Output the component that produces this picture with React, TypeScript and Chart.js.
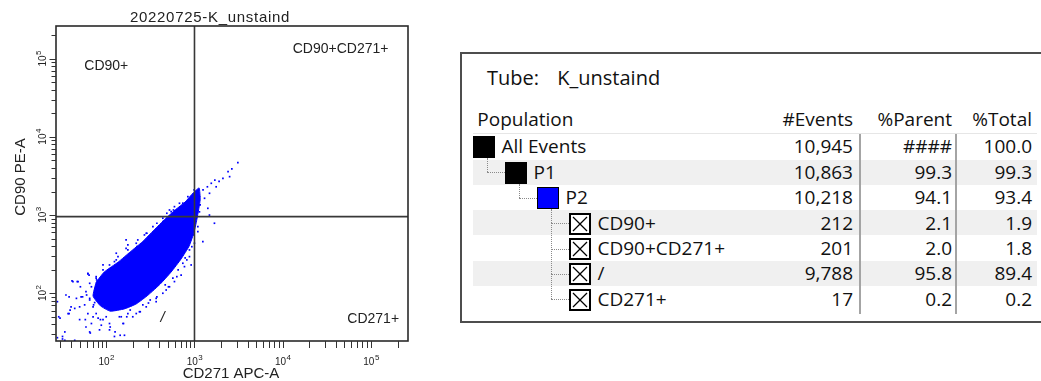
import React, { useEffect, useRef } from "react";
import { Chart, registerables } from "chart.js";

Chart.register(...registerables);

// ---------------- plot data ----------------
const plotTitle = "20220725-K_unstaind";
const xAxisTitle = "CD271 APC-A";
const yAxisTitle = "CD90 PE-A";
const xRange = [27, 262144];
const yRange = [24.5, 262144];
const gateCD271 = 1000;
const gateCD90 = 955;
const decadeExponents = [2, 3, 4, 5];
const minorMultipliers = [2, 3, 4, 5, 6, 7, 8, 9];
const quadrantNames = ["CD90+", "CD90+CD271+", "/", "CD271+"];

// outline of the dense core of P2 events (CD271 APC-A, CD90 PE-A)
const coreCD271 = [77, 95, 137, 187, 256, 349, 466, 604, 784, 966, 1129, 1159, 1072, 991, 871, 706, 544, 409, 299, 219, 160, 111, 86, 71, 77];
const coreCD90 = [139, 187, 251, 338, 453, 645, 892, 1162, 1471, 1918, 2222, 1560, 918, 608, 403, 275, 187, 131, 95, 73, 63, 59, 69, 92, 139];

// individual sparse events
const eventCD271 = [
  3100, 2650, 2400, 2500, 2100, 1900, 1700, 1550, 1760, 1400,
  1250, 1480, 1140, 1300, 1044, 917, 841, 738, 1417, 1477,
  1138, 1683, 1092, 1244, 917, 521, 593, 438, 368, 284,
  228, 176, 168, 136, 124, 92, 109, 77, 62, 65,
  48, 42, 38, 35, 28, 40, 37, 30, 50, 59,
  65, 84, 109, 124, 161, 28, 32, 44, 155, 219,
  260, 368, 438, 521, 569, 706, 738, 877, 973, 200,
  148, 100, 77, 71, 65, 54, 64, 41, 29, 34,
  111, 86, 126, 187, 315, 466, 653, 784, 276, 359,
  466, 653, 848, 144, 117, 1018, 991, 1159, 530,
  47, 51, 60, 72, 78, 102, 132, 171, 223, 289,
  375, 486, 578, 39, 58, 86, 111, 144, 157, 171,
  243, 301, 375, 507, 631, 819, 933, 32, 34, 66, 126,
  62, 77, 84, 68, 59, 52, 46, 65, 74, 57,
  50, 44, 38, 62, 71, 81, 92, 109, 88, 68,
  141, 176, 238, 284, 368, 478, 593, 770, 877, 999,
  1092, 109, 130, 92, 176, 219, 271, 338, 438, 544,
  676, 841, 168, 130,
];
const eventCD90 = [
  4700, 3900, 3600, 3100, 2950, 2700, 2800, 2550, 2300, 2300,
  2100, 1900, 1720, 1640, 1480, 1560, 1350, 1420, 1220, 1000,
  1100, 786, 711, 457, 230, 1162, 1281, 824, 645, 585,
  481, 415, 376, 294, 254, 230, 199, 156, 180, 134,
  141, 141, 90, 95, 78, 67, 55, 48, 46, 37,
  32, 34, 34, 28, 29, 27, 26, 25, 41, 55,
  71, 78, 100, 121, 156, 171, 242, 358, 557, 50,
  50, 50, 55, 67, 82, 90, 171, 144, 50, 25,
  110, 95, 82, 61, 82, 128, 199, 283, 358, 481,
  608, 918, 1096, 171, 135, 1000, 2095, 1348, 283,
  141, 121, 95, 71, 148, 163, 219, 294, 394, 585,
  786, 1055, 1162, 61, 46, 46, 37, 29, 41, 50,
  58, 75, 90, 121, 163, 267, 394, 28, 32, 31, 32,
  177, 163, 141, 121, 105, 90, 86, 86, 76, 71,
  67, 64, 55, 55, 50, 48, 46, 41, 39, 41,
  50, 55, 58, 67, 86, 110, 141, 219, 294, 436,
  613, 230, 267, 199, 358, 436, 557, 711, 911, 1106,
  1416, 1720, 481, 325,
];

// ---------------- statistics table data ----------------
const tubeName = "K_unstaind";
const populationNames = ["All Events", "P1", "P2", "CD90+", "CD90+CD271+", "/", "CD271+"];
const populationLevels = [0, 1, 2, 3, 3, 3, 3];
const populationIcons = ["black", "black", "blue", "gate", "gate", "gate", "gate"];
const eventCounts = [10945, 10863, 10218, 212, 201, 9788, 17];
const percentParent: (number | string)[] = ["####", 99.3, 94.1, 2.1, 2.0, 95.8, 0.2];
const percentTotal = [100.0, 99.3, 93.4, 1.9, 1.8, 89.4, 0.2];
const tableHeaders = ["Population", "#Events", "%Parent", "%Total"];

const SANS = '"Liberation Sans", Arial, sans-serif';

function drawPow(ctx: CanvasRenderingContext2D, e: number, cx: number, baseline: number) {
  ctx.font = `10px ${SANS}`;
  const w1 = ctx.measureText("10").width;
  ctx.font = `8px ${SANS}`;
  const w2 = ctx.measureText(String(e)).width;
  const start = cx - (w1 + w2) / 2;
  ctx.textAlign = "left";
  ctx.textBaseline = "alphabetic";
  ctx.font = `10px ${SANS}`;
  ctx.fillText("10", start, baseline);
  ctx.font = `8px ${SANS}`;
  ctx.fillText(String(e), start + w1 + 0.5, baseline - 5);
}

const flowDecor = {
  id: "flowDecor",
  afterDatasetsDraw(chart: any) {
    const { ctx, chartArea: a, scales } = chart;
    const xs = scales.x;
    const ys = scales.y;
    ctx.save();
    // quadrant gate
    const gx = xs.getPixelForValue(gateCD271);
    const gy = ys.getPixelForValue(gateCD90);
    ctx.strokeStyle = "#383838";
    ctx.lineWidth = 1.6;
    ctx.beginPath();
    ctx.moveTo(gx, a.top);
    ctx.lineTo(gx, a.bottom);
    ctx.moveTo(a.left, gy);
    ctx.lineTo(a.right, gy);
    ctx.stroke();
    // frame
    ctx.strokeStyle = "#2a2a2a";
    ctx.lineWidth = 1.6;
    ctx.strokeRect(a.left, a.top, a.right - a.left, a.bottom - a.top);
    // ticks
    ctx.strokeStyle = "#333";
    ctx.lineWidth = 1;
    ctx.beginPath();
    const mults = [1, ...minorMultipliers];
    for (let e = 1; e <= 5; e++) {
      for (const m of mults) {
        const v = m * Math.pow(10, e);
        if (v >= xRange[0] && v <= xRange[1]) {
          const px = Math.round(xs.getPixelForValue(v)) + 0.5;
          ctx.moveTo(px, a.bottom);
          ctx.lineTo(px, a.bottom + 7);
        }
        if (v >= yRange[0] && v <= yRange[1]) {
          const py = Math.round(ys.getPixelForValue(v)) + 0.5;
          const len = m === 1 ? 6.5 : 4.5;
          ctx.moveTo(a.left - len, py);
          ctx.lineTo(a.left, py);
        }
      }
    }
    ctx.stroke();
    // tick labels
    ctx.fillStyle = "#222";
    for (const e of decadeExponents) {
      const v = Math.pow(10, e);
      drawPow(ctx, e, xs.getPixelForValue(v), a.bottom + 24);
      ctx.save();
      ctx.translate(a.left - 10.5, ys.getPixelForValue(v));
      ctx.rotate(-Math.PI / 2);
      drawPow(ctx, e, 0, 0);
      ctx.restore();
    }
    // axis titles
    ctx.font = `15px ${SANS}`;
    ctx.textAlign = "center";
    ctx.textBaseline = "alphabetic";
    ctx.fillText(xAxisTitle, (a.left + a.right) / 2 - 1, a.bottom + 37);
    ctx.save();
    ctx.translate(24.5, 177);
    ctx.rotate(-Math.PI / 2);
    ctx.fillText(yAxisTitle, 0, 0);
    ctx.restore();
    // title
    ctx.font = `15px ${SANS}`;
    (ctx as any).letterSpacing = "0.7px";
    ctx.fillText(plotTitle, 210, 22);
    (ctx as any).letterSpacing = "0px";
    // quadrant labels
    ctx.textAlign = "left";
    ctx.font = `14px ${SANS}`;
    ctx.fillText(quadrantNames[0], a.left + 28.3, a.top + 44);
    ctx.fillText(quadrantNames[1], a.left + 236.7, a.top + 27.3);
    ctx.font = `italic 15px ${SANS}`;
    ctx.fillText(quadrantNames[2], a.left + 104.5, a.bottom - 19);
    ctx.font = `14px ${SANS}`;
    ctx.fillText(quadrantNames[3], a.left + 291.3, a.bottom - 18.3);
    ctx.restore();
  },
};

function FlowPlot() {
  const ref = useRef<HTMLCanvasElement>(null);
  useEffect(() => {
    const chart = new Chart(ref.current as HTMLCanvasElement, {
      type: "scatter",
      data: {
        datasets: [
          {
            data: eventCD271.map((x, i) => ({ x, y: eventCD90[i] })),
            pointStyle: "rect",
            pointRadius: 1.2,
            backgroundColor: "#0000ff",
            borderWidth: 0,
          },
          {
            data: coreCD271.map((x, i) => ({ x, y: coreCD90[i] })),
            showLine: true,
            fill: "shape",
            tension: 0.15,
            borderColor: "#0000ff",
            backgroundColor: "#0000ff",
            borderWidth: 1,
            pointRadius: 0,
          } as any,
        ],
      },
      options: {
        animation: false,
        responsive: false,
        devicePixelRatio: 1,
        layout: { padding: { left: 56, right: 22, top: 26, bottom: 40 } },
        scales: {
          x: { type: "logarithmic", min: xRange[0], max: xRange[1], display: false },
          y: { type: "logarithmic", min: yRange[0], max: yRange[1], display: false },
        },
        plugins: { legend: { display: false }, tooltip: { enabled: false } },
      },
      plugins: [flowDecor],
    });
    return () => chart.destroy();
  }, []);
  return (
    <canvas
      ref={ref}
      width={430}
      height={381}
      style={{ position: "absolute", left: 0, top: 0, width: 430, height: 381 }}
    />
  );
}

function Icon({ kind }: { kind: string }) {
  if (kind === "gate") {
    return (
      <svg width="22" height="22" style={{ display: "block" }}>
        <rect x="1" y="1" width="20" height="20" fill="#fff" stroke="#000" strokeWidth="2" />
        <line x1="4" y1="4" x2="18" y2="18" stroke="#000" strokeWidth="1.3" />
        <line x1="18" y1="4" x2="4" y2="18" stroke="#000" strokeWidth="1.3" />
      </svg>
    );
  }
  return (
    <div
      style={{
        width: 22,
        height: 22,
        boxSizing: "border-box",
        background: kind === "blue" ? "#0000ff" : "#000",
        border: "1.5px solid #000",
      }}
    />
  );
}

function StatsTable() {
  const font = '"Open Sans", "Noto Sans", sans-serif';
  const rowTop = (i: number) => 134.4 + i * 25.4;
  const iconTop = (i: number) => rowTop(i) + 2;
  const iconLeft = (lv: number) => 473 + lv * 32;
  const ICON = 22;
  const els: any[] = [];
  const text: React.CSSProperties = {
    position: "absolute",
    fontFamily: font,
    fontSize: 19,
    lineHeight: "25px",
    color: "#111",
    whiteSpace: "nowrap",
  };

  populationNames.forEach((_, i) => {
    if (i % 2 === 1) {
      els.push(
        <div key={"band" + i} style={{ position: "absolute", left: 473, top: rowTop(i) - 0.3, width: 564, height: 25, background: "#f0f0f0" }} />
      );
    }
  });

  // connectors
  populationNames.forEach((_, i) => {
    const lv = populationLevels[i];
    if (lv === 0) return;
    let p = i - 1;
    while (populationLevels[p] >= lv) p--;
    let s = i - 1;
    while (s > p && populationLevels[s] !== lv) s--;
    const cx = iconLeft(lv - 1) + 14;
    const cy = rowTop(i) + 12.5;
    const y0 = s > p ? rowTop(s) + 12.5 : iconTop(p) + ICON;
    els.push(
      <div key={"v" + i} style={{ position: "absolute", left: cx, top: y0, height: cy - y0, width: 0, borderLeft: "1px dotted #8a8a8a" }} />
    );
    els.push(
      <div key={"h" + i} style={{ position: "absolute", left: cx, top: cy, width: iconLeft(lv) - cx, height: 0, borderTop: "1px dotted #8a8a8a" }} />
    );
  });

  populationNames.forEach((name, i) => {
    const lv = populationLevels[i];
    els.push(
      <div key={"i" + i} style={{ position: "absolute", left: iconLeft(lv), top: iconTop(i) }}>
        <Icon kind={populationIcons[i]} />
      </div>
    );
    els.push(
      <div key={"n" + i} style={{ ...text, left: iconLeft(lv) + 28.5, top: rowTop(i) }}>
        {name}
      </div>
    );
    const cols = [
      eventCounts[i].toLocaleString("en-US"),
      typeof percentParent[i] === "number" ? (percentParent[i] as number).toFixed(1) : String(percentParent[i]),
      percentTotal[i].toFixed(1),
    ];
    const rights = [853, 952, 1032];
    cols.forEach((c, k) => {
      els.push(
        <div key={"c" + i + "_" + k} style={{ ...text, left: rights[k] - 150, width: 150, textAlign: "right", top: rowTop(i) }}>
          {c}
        </div>
      );
    });
  });

  return (
    <>
      <div style={{ position: "absolute", left: 460, top: 52.3, width: 640, height: 271, boxSizing: "border-box", border: "2px solid #4d4d4d", background: "#fff" }} />
      <div style={{ ...text, fontSize: 20, lineHeight: "26px", left: 487, top: 65 }}>Tube:</div>
      <div style={{ ...text, fontSize: 20, lineHeight: "26px", left: 557.3, top: 65 }}>{tubeName}</div>
      <div style={{ ...text, left: 477.3, top: 107.4 }}>{tableHeaders[0]}</div>
      {[853, 952, 1032].map((r, k) => (
        <div key={"hd" + k} style={{ ...text, left: r - 150, width: 150, textAlign: "right", top: 107.4 }}>
          {tableHeaders[k + 1]}
        </div>
      ))}
      <div style={{ position: "absolute", left: 473, top: 133, width: 564, height: 1, background: "#e6e6e6" }} />
      {els}
      <div style={{ position: "absolute", left: 858.5, top: 133.5, width: 2, height: 180, background: "#a4a4a4" }} />
      <div style={{ position: "absolute", left: 955, top: 133.5, width: 2, height: 180, background: "#a4a4a4" }} />
    </>
  );
}

export default function App() {
  return (
    <div style={{ position: "absolute", left: 0, top: 0, width: 1041, height: 381, overflow: "hidden", background: "#fff" }}>
      <FlowPlot />
      <StatsTable />
    </div>
  );
}
